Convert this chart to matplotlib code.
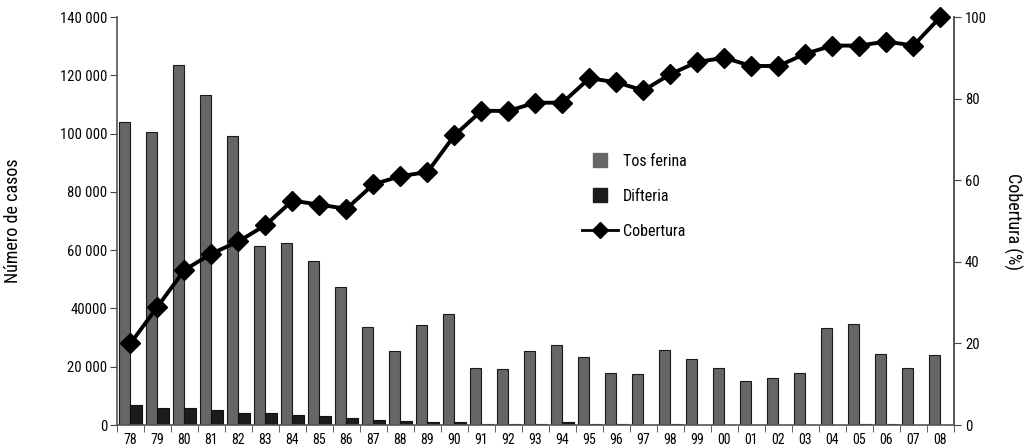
import matplotlib.pyplot as plt
import numpy as np
from matplotlib.lines import Line2D

plt.rcParams['font.family'] = ['Roboto Condensed', 'Liberation Sans Narrow', 'DejaVu Sans']

years = ["78", "79", "80", "81", "82", "83", "84", "85", "86", "87", "88", "89", "90",
         "91", "92", "93", "94", "95", "96", "97", "98", "99", "00", "01", "02", "03",
         "04", "05", "06", "07", "08"]
tos_ferina = [104000, 100500, 123500, 113200, 99300, 61500, 62300, 56200, 47500, 33800,
              25500, 34200, 38000, 19700, 19100, 25500, 27400, 23200, 17800, 17400,
              25900, 22600, 19700, 15000, 16100, 17900, 33400, 34700, 24500, 19700, 24000]
difteria = [7000, 5800, 5800, 5000, 4000, 4000, 3300, 3100, 2300, 1600,
            1300, 900, 900, 400, 400, 400, 900, 400, 400, 150,
            400, 100, 100, 100, 100, 100, 100, 250, 250, 100, 100]
cobertura = [20, 29, 38, 42, 45, 49, 55, 54, 53, 59, 61, 62, 71, 77, 77, 79, 79, 85, 84, 82,
             86, 89, 90, 88, 88, 91, 93, 93, 94, 93, 100]

left_ticks = [0, 20000, 40000, 60000, 80000, 100000, 120000, 140000]
left_labels = ["0", "20 000", "40000", "60 000", "80 000", "100 000", "120 000", "140 000"]

x = np.arange(len(years))
w = 0.42

fig = plt.figure(figsize=(10.29, 4.48), dpi=100)
ax = fig.add_axes([0.1137, 0.0513, 0.8133, 0.9107])
ax.bar(x - w / 2, tos_ferina, w, color="#666666", edgecolor="#1a1a1a", linewidth=0.8)
ax.bar(x + w / 2, difteria, w, color="#1c1c1c", edgecolor="#111111", linewidth=0.8)
ax.set_xlim(-0.5, len(years) - 0.5)
ax.set_ylim(0, 140000)
ax.set_yticks(left_ticks)
ax.set_yticklabels(left_labels)
ax.set_xticks(x)
ax.set_xticklabels(years)
ax.set_xticks(np.arange(-0.5, len(years)), minor=True)
ax.tick_params(axis="x", which="major", length=0, pad=6, labelsize=10)
ax.tick_params(axis="x", which="minor", length=5, direction="out", color="#444444")
ax.tick_params(axis="y", length=5, direction="out", labelsize=10.5, color="#444444", pad=2)
ax.spines["top"].set_visible(False)
for s in ["left", "bottom", "right"]:
    ax.spines[s].set_color("#555555")
    ax.spines[s].set_linewidth(1.2)
ax.set_ylabel("Número de casos", fontsize=13)
ax.yaxis.set_label_coords(-0.1135, 0.5)

ax2 = ax.twinx()
ax2.plot(x, cobertura, color="black", linewidth=2.8, marker="D", markersize=10.5,
         markerfacecolor="black", clip_on=False, zorder=5)
ax2.set_ylim(0, 100)
ax2.set_yticks([0, 20, 40, 60, 80, 100])
ax2.tick_params(axis="y", length=5, direction="out", labelsize=10.5, color="#444444", pad=3)
ax2.spines["top"].set_visible(False)
ax2.spines["right"].set_color("#555555")
ax2.spines["right"].set_linewidth(1.2)
ax2.spines["left"].set_visible(False)
ax2.spines["bottom"].set_visible(False)
ax2.set_ylabel("Cobertura (%)", fontsize=13, rotation=270, va="center")
ax2.yaxis.set_label_coords(1.0705, 0.5)

handles = [
    Line2D([], [], marker="s", linestyle="none", markersize=10, color="#666666"),
    Line2D([], [], marker="s", linestyle="none", markersize=10, color="#1c1c1c"),
    Line2D([], [], marker="D", color="black", linewidth=2, markersize=8),
]
ax2.legend(handles, ["Tos ferina", "Difteria", "Cobertura"], loc="upper left",
           bbox_to_anchor=(0.538, 0.70), frameon=False, fontsize=11.5,
           handlelength=2.3, labelspacing=1.25, handletextpad=0.3)

fig.savefig("out.png", dpi=100)
